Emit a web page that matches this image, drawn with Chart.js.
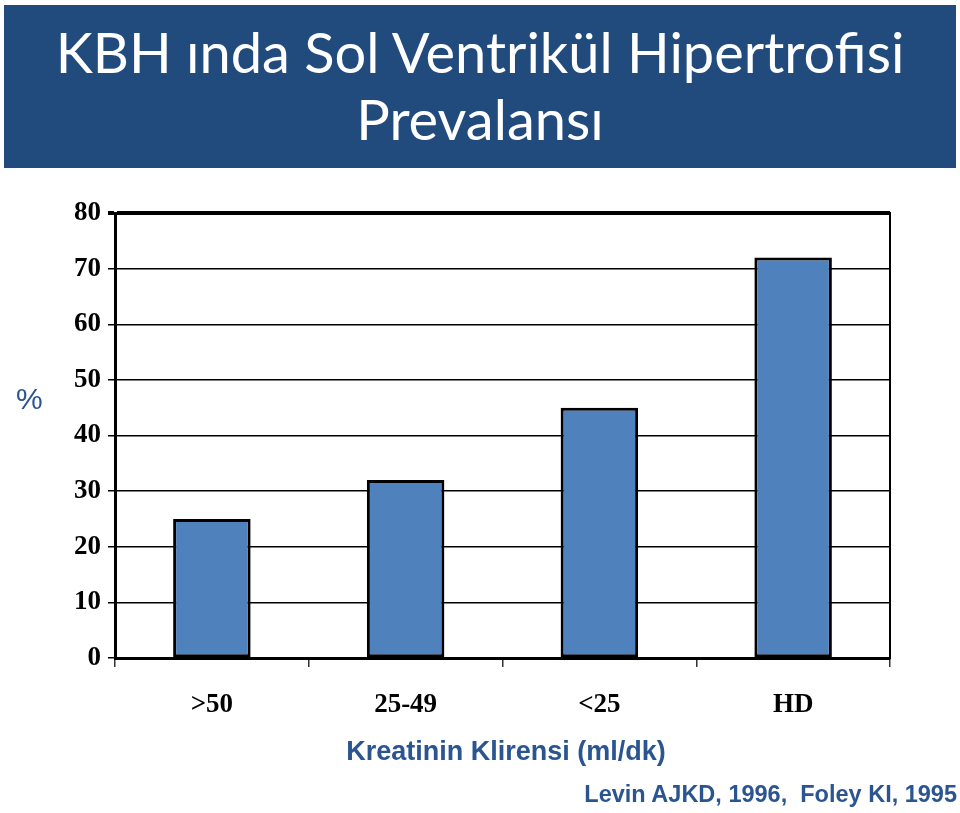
<!DOCTYPE html>
<html>
<head>
<meta charset="utf-8">
<script src="https://cdn.jsdelivr.net/npm/chart.js@4"></script>
<style>
    body { margin:0; background:#fff; width:960px; height:813px; overflow:hidden; position:relative; }
    #header {
        position:absolute; left:4px; top:5px; width:952px; height:163px;
        background:#214A7D; color:#fff; text-align:center;
        font-family:Lato, sans-serif; font-size:56px; line-height:67px;
        padding-top:13px; box-sizing:border-box;
    }
    #wrap { position:absolute; left:0; top:0; width:960px; height:813px; }
    .txt { position:absolute; font-family:"Liberation Sans", Arial, sans-serif; color:#2A5590; font-weight:bold; }
</style>
</head>
<body>
<div id="wrap"><canvas id="chart"></canvas></div>
<div id="header">KBH ında Sol Ventrikül Hipertrofisi<br>Prevalansı</div>
<div class="txt" style="left:16px;top:382px;font-size:30px;font-weight:normal;">%</div>
<div class="txt" style="left:0;width:1012px;text-align:center;top:736px;font-size:27px;">Kreatinin Klirensi (ml/dk)</div>
<div class="txt" style="right:3px;top:781px;font-size:23.5px;">Levin AJKD, 1996,&nbsp; Foley KI, 1995</div>
<script>
// ======================================================
// Data
// ======================================================

const categories = [">50", "25-49", "<25", "HD"];

const prevalence = [25, 32, 45, 72];

const yTicks = [0, 10, 20, 30, 40, 50, 60, 70, 80];

// ======================================================
// Chart
// ======================================================

new Chart(
    document.getElementById("chart"),
    {
        type:"bar",
        data:{
            labels:categories,
            datasets:[
                {
                    data:prevalence,
                    backgroundColor:"#4F81BD",
                    borderColor:"#000",
                    borderWidth:3,
                    borderSkipped:false,
                    barPercentage:0.4,
                    categoryPercentage:1
                }
            ]
        },
        options:{
            responsive:true,
            maintainAspectRatio:false,
            animation:false,
            layout:{
                padding:{ top:213, left:0, right:0, bottom:0 }
            },
            plugins:{
                legend:{ display:false },
                tooltip:{ enabled:false }
            },
            scales:{
                x:{
                    offset:true,
                    grid:{
                        offset:true,
                        drawOnChartArea:false,
                        color:"#333",
                        lineWidth:1.5,
                        tickLength:9
                    },
                    border:{ color:"#000", width:3 },
                    ticks:{
                        color:"#000",
                        padding:22,
                        font:{ family:"Liberation Serif", size:27, weight:"bold" }
                    },
                    afterFit:(s) => { s.height = 813 - 658; }
                },
                y:{
                    min:0,
                    max:80,
                    afterBuildTicks:(s) => { s.ticks = yTicks.map(v => ({ value:v })); },
                    grid:{
                        color:"#000",
                        lineWidth:(c) => c.tick && c.tick.value === 80 ? 4 : 1.5,
                        tickLength:7
                    },
                    border:{ color:"#000", width:3 },
                    ticks:{
                        color:"#000",
                        padding:7,
                        font:{ family:"Liberation Serif", size:27, weight:"bold" }
                    },
                    afterFit:(s) => { s.width = 115; }
                },
                y2:{
                    position:"right",
                    min:0,
                    max:80,
                    grid:{ drawOnChartArea:false, drawTicks:false },
                    border:{ color:"#000", width:2 },
                    ticks:{ display:false },
                    afterFit:(s) => { s.width = 960 - 890; }
                }
            }
        }
    }
);
</script>
</body>
</html>
